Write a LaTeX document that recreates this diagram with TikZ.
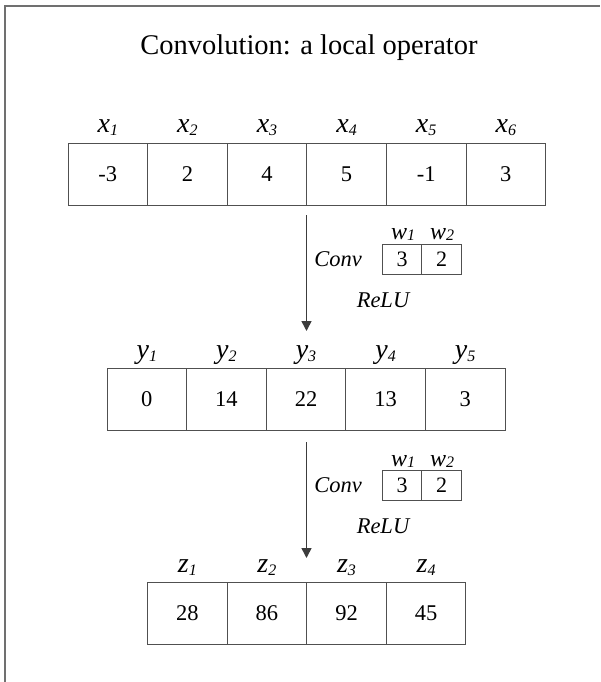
\documentclass[tikz,border=0pt]{standalone}
\usepackage{fontspec}
\setmainfont{Liberation Serif}
\usetikzlibrary{arrows.meta}

\definecolor{edge}{HTML}{505050}
\definecolor{frame}{HTML}{707070}
\definecolor{arrowc}{HTML}{3C3C3C}

% italic symbol with an italic subscript index: symbol, index, size, drop
\newcommand\sublab[4]{{\fontsize{#3}{#3}\selectfont\itshape #1\raisebox{-#4}{\fontsize{16}{16}\selectfont #2}}}

\tikzset{
  cell/.style={draw=edge, line width=1pt, minimum width=79.6pt, minimum height=62pt,
    inner sep=0pt, font=\fontsize{22.5}{24}\selectfont},
  wcell/.style={draw=edge, line width=1pt, minimum width=39.6pt, minimum height=30pt,
    inner sep=0pt, font=\fontsize{22}{24}\selectfont},
  lab/.style={anchor=base, inner sep=0pt},
  optext/.style={anchor=base, inner sep=0pt, font=\fontsize{22.5}{24}\selectfont\itshape},
  flow/.style={draw=arrowc, line width=1.6pt, -{Triangle[length=10pt,width=10pt]}},
}

\begin{document}
\begin{tikzpicture}[x=1pt, y=-1pt]
  \useasboundingbox (0,0) rectangle (601,682);

  % open frame: top and left sides
  \draw[frame, line width=1.2pt] (5,682) -- (5,6) -- (600,6);

  % title
  \node[lab, font=\fontsize{28.5}{30}\selectfont] (title) at (309,55) {Convolution: a local operator};

  % input row x
  \foreach \v [count=\i] in {-3,2,4,5,-1,3} {
    \node[cell] (x\i) at ({68+39.8+79.6*(\i-1)},174) {\v};
    \node[lab] (lx\i) at ({68+39.8+79.6*(\i-1)},132) {\sublab{x}{\i}{28}{3pt}};
  }

  % hidden row y
  \foreach \v [count=\i] in {0,14,22,13,3} {
    \node[cell] (y\i) at ({107+39.8+79.6*(\i-1)},399.5) {\v};
    \node[lab] (ly\i) at ({107+39.8+79.6*(\i-1)},358) {\sublab{y}{\i}{28}{3pt}};
  }

  % output row z
  \foreach \v [count=\i] in {28,86,92,45} {
    \node[cell] (z\i) at ({147.5+39.8+79.6*(\i-1)},613.5) {\v};
    \node[lab] (lz\i) at ({147.5+39.8+79.6*(\i-1)},572) {\sublab{z}{\i}{28}{3pt}};
  }

  % first convolution step
  \coordinate (a1s) at (306.5,215);
  \coordinate (a1e) at (306.5,331);
  \draw[flow] (a1s) -- (a1e);
  \node[wcell] (wa1) at (402,259.5) {3};
  \node[wcell] (wa2) at (441.6,259.5) {2};
  \node[lab] (lwa1) at (403,239.5) {\sublab{w}{1}{24}{1pt}};
  \node[lab] (lwa2) at (442,239.5) {\sublab{w}{2}{24}{1pt}};
  \node[optext] (conva) at (338,266) {Conv};
  \node[optext] (relua) at (383,307) {ReLU};

  % second convolution step
  \coordinate (a2s) at (306.5,442);
  \coordinate (a2e) at (306.5,558);
  \draw[flow] (a2s) -- (a2e);
  \node[wcell] (wb1) at (402,485.5) {3};
  \node[wcell] (wb2) at (441.6,485.5) {2};
  \node[lab] (lwb1) at (403,466) {\sublab{w}{1}{24}{1pt}};
  \node[lab] (lwb2) at (442,466) {\sublab{w}{2}{24}{1pt}};
  \node[optext] (convb) at (338,492) {Conv};
  \node[optext] (relub) at (383,533) {ReLU};
\end{tikzpicture}
\end{document}
